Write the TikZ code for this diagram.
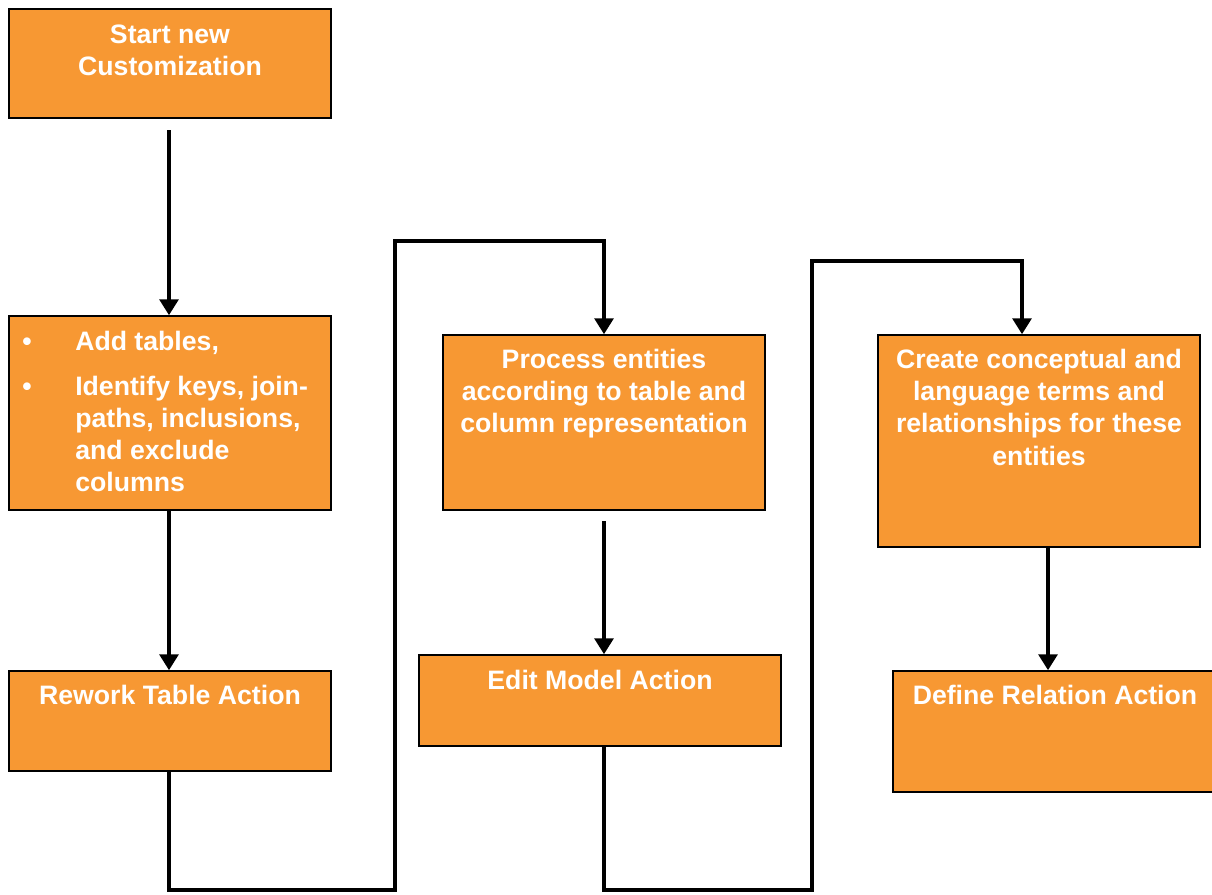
\documentclass[tikz,border=0pt]{standalone}
\usepackage{fontspec}
\setmainfont{Liberation Sans}
\usetikzlibrary{arrows.meta,fit}
\definecolor{boxorange}{RGB}{247,152,51}
\begin{document}
\begin{tikzpicture}[x=0.75pt,y=-0.75pt,
  box/.style={draw=black, line width=1.1pt, fill=boxorange, inner sep=0pt},
  txt/.style={text=white, font=\fontsize{20}{24}\selectfont\bfseries, inner sep=0pt, anchor=base},
  txtl/.style={txt, anchor=base west},
  conn/.style={line width=3.6pt, line join=miter},
  arr/.style={conn, -{Triangle[width=14pt,length=12pt]}}]
\useasboundingbox (0,0) rectangle (1212,894);

% boxes
\node[box, fit={(9,9) (331,118)}] (start) {};
\node[box, fit={(9,316) (331,510)}] (add) {};
\node[box, fit={(9,671) (331,771)}] (rew) {};
\node[box, fit={(443,335) (765,510)}] (proc) {};
\node[box, fit={(419,655) (781,746)}] (edit) {};
\node[box, fit={(878,335) (1200,547)}] (cre) {};
\node[box, fit={(893,671) (1218,792)}] (def) {};

% texts
\node[txt] (s1) at (170,43) {Start new};
\node[txt] (s2) at (170,75) {Customization};

\node[txt] (b1) at (27,350) {•};
\node[txtl] (a1) at (75,350) {Add tables,};
\node[txt] (b2) at (27,395) {•};
\node[txtl] (a2) at (75,395) {Identify keys, join-};
\node[txtl] (a3) at (75,427) {paths, inclusions,};
\node[txtl] (a4) at (75,459) {and exclude};
\node[txtl] (a5) at (75,491) {columns};

\node[txt] (r1) at (170,704) {Rework Table Action};

\node[txt] (p1) at (604,368) {Process entities};
\node[txt] (p2) at (604,400) {according to table and};
\node[txt] (p3) at (604,432) {column representation};

\node[txt] (e1) at (600,689) {Edit Model Action};

\node[txt] (c1) at (1039,368) {Create conceptual and};
\node[txt] (c2) at (1039,400) {language terms and};
\node[txt] (c3) at (1039,432) {relationships for these};
\node[txt] (c4) at (1039,465) {entities};

\node[txt] (d1) at (1055,704) {Define Relation Action};

% connectors
\coordinate (k0) at (169,130);
\draw[arr] (k0) -- (k0 |- add.north);
\draw[arr] (k0 |- add.south) -- (k0 |- rew.north);

\coordinate (k1) at (169,890);
\coordinate (k2) at (395,890);
\coordinate (k3) at (395,241);
\draw[arr] (k1 |- rew.south) -- (k1) -- (k2) -- (k3) -| (proc.north);

\coordinate (k4) at (604,521);
\draw[arr] (k4) -- (k4 |- edit.north);

\coordinate (k5) at (604,890);
\coordinate (k6) at (812,890);
\coordinate (k7) at (812,261);
\coordinate (k8) at (1022,261);
\draw[arr] (k5 |- edit.south) -- (k5) -- (k6) -- (k7) -- (k8) -- (k8 |- cre.north);

\coordinate (k9) at (1048,547);
\draw[arr] (k9) -- (k9 |- def.north);
\end{tikzpicture}
\end{document}
